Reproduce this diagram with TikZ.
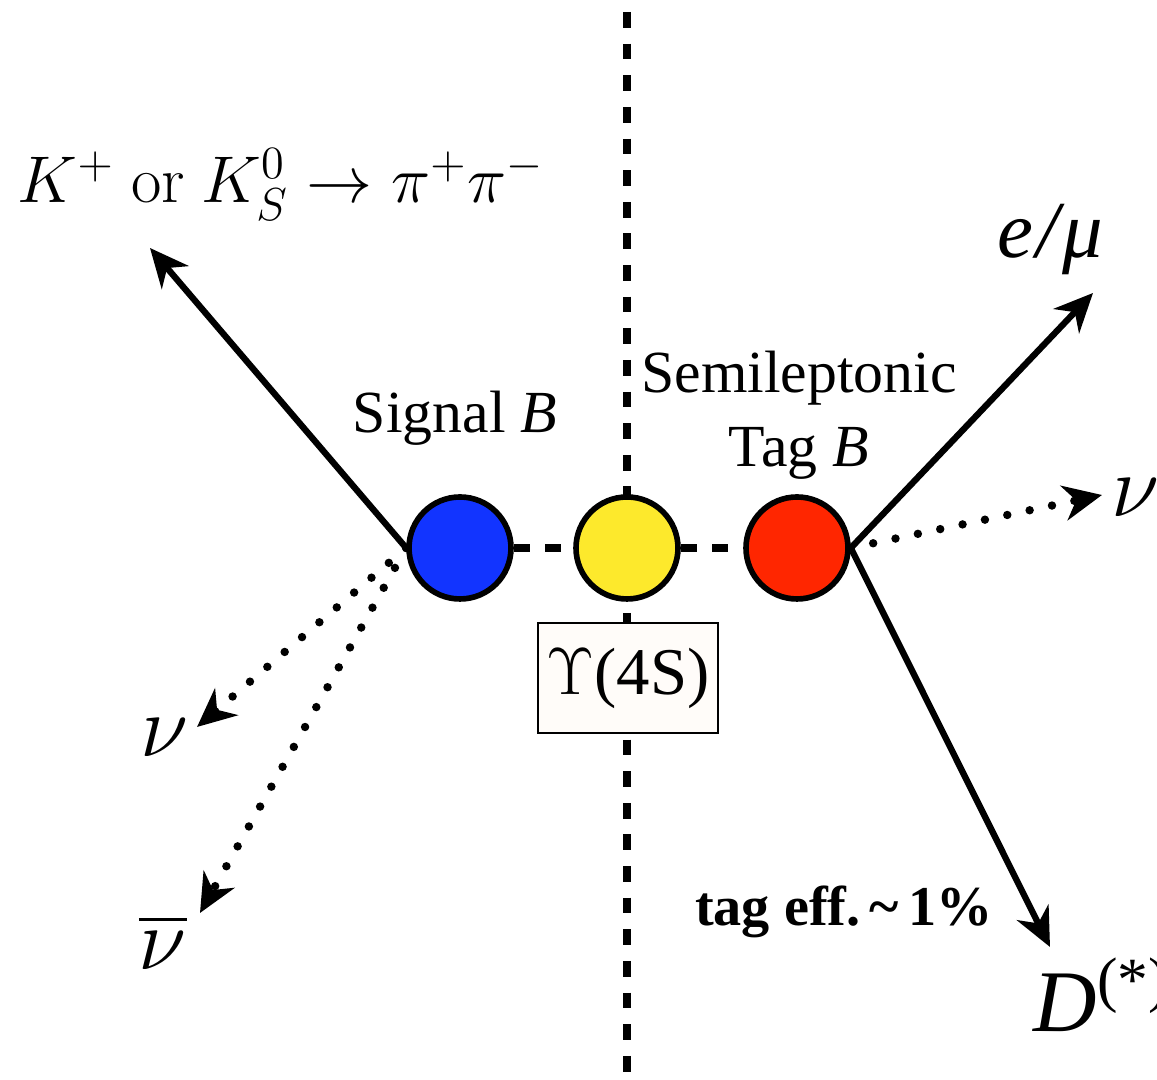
\RequirePackage{fix-cm}
\documentclass[tikz,border=0pt]{standalone}
\usepackage[no-math]{fontspec}
\setmainfont{Liberation Serif}
\usepackage{amsmath,amssymb}
\usetikzlibrary{arrows.meta,positioning}

\definecolor{sigblue}{RGB}{18,52,255}
\definecolor{upsyellow}{RGB}{253,233,44}
\definecolor{tagred}{RGB}{255,38,0}
\definecolor{boxfill}{RGB}{255,252,249}

\begin{document}
\begin{tikzpicture}[
  >={Stealth[length=11pt,width=10pt,inset=3.5pt]},
  every node/.style={font=\fontsize{17}{21}\selectfont},
  meson/.style={circle,draw,line width=1.6pt,minimum size=1.02cm,inner sep=0pt},
  track/.style={->,line width=1.8pt},
  unseen/.style={->,line width=2.4pt,line cap=round,dash pattern=on 0pt off 6.5pt},
  link/.style={line width=2.2pt,dash pattern=on 4.5pt off 4.5pt},
  biglabel/.style={font=\fontsize{25}{29}\selectfont},
  midlabel/.style={font=\fontsize{23}{27}\selectfont}
]
\useasboundingbox (0,0) rectangle (11.57,10.80);

% ------------------------------------------------------------------
% Beam axis and the three mesons
% ------------------------------------------------------------------
\draw[link] (6.27,10.68) -- (6.27,0);

\node[meson,fill=sigblue] (sig) at (4.60,5.32) {};
\node[meson,fill=upsyellow] (ups) at (6.27,5.32) {};
\node[meson,fill=tagred] (tag) at (7.97,5.32) {};

\draw[link] (sig) -- (ups);
\draw[link] (ups) -- (tag);

\node[draw,fill=boxfill,line width=0.8pt,minimum width=1.80cm,minimum height=1.10cm,
      inner xsep=2pt,font=\fontsize{19}{23}\selectfont] (upsbox) at (6.28,4.02) {$\Upsilon$(4S)};

\node (siglabel) at (4.55,6.62) {Signal \textit{B}};
\node[align=center] (taglabel) at (7.99,6.65) {Semileptonic\\Tag \textit{B}};

% ------------------------------------------------------------------
% Signal side
% ------------------------------------------------------------------
\coordinate (kpitip) at (1.50,8.32);
\coordinate (nutip) at (1.97,3.53);
\coordinate (nubartip) at (2.00,1.67);

\draw[track] (sig.west) -- (kpitip);
\draw[unseen] (sig.west) -- (nutip);
\draw[unseen] (sig.west) -- (nubartip);

\node[font=\fontsize{18.8}{22}\selectfont] (kpi) at (2.81,8.95) {$K^+\ \mathrm{or}\ K_S^0\to\pi^+\pi^-$};
\node[biglabel] (nu) at (1.65,3.42) {$\nu$};
\node[biglabel] (nubar) at (1.63,1.38) {$\overline{\nu}$};

% ------------------------------------------------------------------
% Tag side
% ------------------------------------------------------------------
\coordinate (leptip) at (10.93,7.87);
\coordinate (tagnutip) at (11.02,5.85);
\coordinate (dtip) at (10.50,1.33);

\draw[track] (tag.east) -- (leptip);
\draw[unseen] (tag.east) -- (tagnutip);
\draw[track] (tag.east) -- (dtip);

\node[midlabel] (lep) at (10.50,8.40) {\textit{e\kern1pt/\kern1pt μ}};
\node[biglabel] (tagnu) at (11.36,5.82) {$\nu$};
\node[biglabel,anchor=base west,inner sep=0pt] (dmeson) at (10.33,0.48) {\textit{D}\textsuperscript{(*)}};

\node[font=\fontsize{16}{19}\selectfont\bfseries] (eff) at (8.44,1.68) {tag eff.\,\symbol{126}\,1\%};

\end{tikzpicture}
\end{document}
